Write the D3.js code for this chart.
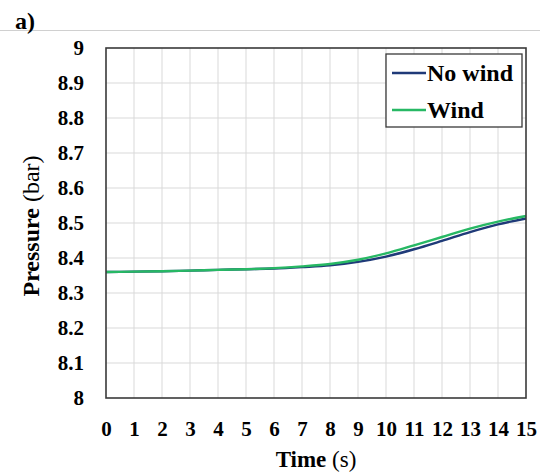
<!DOCTYPE html>
<html><head><meta charset="utf-8">
<script src="https://cdn.jsdelivr.net/npm/d3@7"></script>
<style>body{margin:0;background:#fff;} svg{display:block;}</style>
</head><body>
<svg id="c" width="540" height="475"></svg>
<script>
const times = [0,1,2,3,4,5,6,7,8,9,10,11,12,13,14,15];
const noWind = [8.360,8.361,8.362,8.364,8.366,8.368,8.370,8.374,8.379,8.389,8.404,8.425,8.449,8.474,8.496,8.513];
const wind   = [8.360,8.361,8.362,8.364,8.366,8.368,8.371,8.376,8.383,8.395,8.413,8.436,8.460,8.484,8.504,8.520];
const yTicks = [8,8.1,8.2,8.3,8.4,8.5,8.6,8.7,8.8,8.9,9];
const seriesNames = ["No wind","Wind"];
const seriesColors = ["#1f3a78","#27b864"];

const svg = d3.select("#c");
const font = "'Liberation Serif','Times New Roman',serif";
const L=106,R=526,T=48,B=398;
const x = d3.scaleLinear().domain([0,15]).range([L,R]);
const y = d3.scaleLinear().domain([8,9]).range([B,T]);

// top rule and panel label
svg.append("line").attr("x1",0).attr("x2",540).attr("y1",30.5).attr("y2",30.5).attr("stroke","#d0d0d0").attr("stroke-width",1);
svg.append("text").attr("x",15).attr("y",29).attr("font-family",font).attr("font-weight","bold").attr("font-size",24).text("a)");

// grid
svg.append("g").selectAll("line").data(times.slice(1,-1)).join("line")
  .attr("x1",d=>x(d)).attr("x2",d=>x(d)).attr("y1",T).attr("y2",B).attr("stroke","#d9d9d9").attr("stroke-width",1);
svg.append("g").selectAll("line").data(yTicks.slice(1,-1)).join("line")
  .attr("x1",L).attr("x2",R).attr("y1",d=>y(d)).attr("y2",d=>y(d)).attr("stroke","#d9d9d9").attr("stroke-width",1);

// axes labels via d3 axes
const xa = svg.append("g").attr("transform",`translate(0,${B})`)
  .call(d3.axisBottom(x).tickValues(times).tickSize(0).tickFormat(d3.format("d")));
xa.selectAll("text").attr("y",38).attr("dy",0);
const ya = svg.append("g").attr("transform",`translate(${L},0)`)
  .call(d3.axisLeft(y).tickValues(yTicks).tickSize(0).tickPadding(22).tickFormat(d=>d3.format("")(+d.toFixed(1))));
[xa,ya].forEach(a=>{a.select(".domain").remove();
  a.selectAll("text").attr("font-family",font).attr("font-weight","bold").attr("font-size",21).attr("fill","#000");});

// lines
const line = d3.line().x((d,i)=>x(times[i])).y(d=>y(d)).curve(d3.curveMonotoneX);
[noWind,wind].forEach((s,i)=>{
  svg.append("path").datum(s).attr("d",line).attr("fill","none").attr("stroke",seriesColors[i]).attr("stroke-width",2.4);
});

// plot border
svg.append("rect").attr("x",L).attr("y",T).attr("width",R-L).attr("height",B-T)
  .attr("fill","none").attr("stroke","#3a3a3a").attr("stroke-width",1.6);

// legend
const lg = svg.append("g");
lg.append("rect").attr("x",386).attr("y",54).attr("width",136).attr("height",73)
  .attr("fill","#fff").attr("stroke","#3a3a3a").attr("stroke-width",1.3);
seriesNames.forEach((n,i)=>{
  const base = 81 + i*37;
  lg.append("line").attr("x1",392).attr("x2",426).attr("y1",base-8).attr("y2",base-8).attr("stroke",seriesColors[i]).attr("stroke-width",2.4);
  lg.append("text").attr("x",427).attr("y",base).attr("font-family",font).attr("font-weight","bold").attr("font-size",24).text(n);
});

// axis titles
const xt = svg.append("text").attr("x",316).attr("y",467).attr("text-anchor","middle")
  .attr("font-family",font).attr("font-size",23);
xt.append("tspan").attr("font-weight","bold").text("Time ");
xt.append("tspan").text("(s)");
const yt = svg.append("text").attr("transform","translate(39,226) rotate(-90)").attr("text-anchor","middle")
  .attr("font-family",font).attr("font-size",24);
yt.append("tspan").attr("font-weight","bold").text("Pressure ");
yt.append("tspan").text("(bar)");
</script>
</body></html>
